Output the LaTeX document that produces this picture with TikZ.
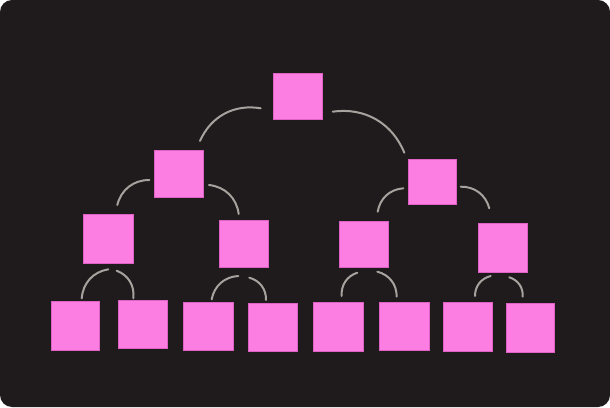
\documentclass[tikz,border=0pt]{standalone}
\begin{document}
\begin{tikzpicture}[x=1pt,y=1pt,
  note/.style={rectangle, fill=notepink, draw=noteedge, line width=0.4pt, inner sep=0pt, minimum width=49pt, minimum height=48pt},
  chalk/.style={draw=chalkgray, line width=2pt, line cap=round, opacity=0.8},
  ]
\definecolor{board}{RGB}{31,26,28}
\definecolor{notepink}{RGB}{252,126,226}
\definecolor{noteedge}{RGB}{222,98,196}
\definecolor{chalkgray}{RGB}{200,196,190}
\useasboundingbox (0,0) rectangle (610,407);
\fill[white] (0,0) rectangle (610,407);
\fill[board, rounded corners=12pt] (0,0) rectangle (610,407);
% level 0
\node[note, minimum width=49pt, minimum height=46pt] (n0) at (297.5,311) {};
% level 1
\node[note, minimum width=49pt, minimum height=47pt] (n1) at (178.5,233.5) {};
\node[note, minimum width=48pt, minimum height=45pt] (n2) at (432,225.5) {};
% level 2
\node[note, minimum width=50pt, minimum height=49pt] (n3) at (108,168.5) {};
\node[note, minimum width=49pt, minimum height=47pt] (n4) at (243.5,163.5) {};
\node[note, minimum width=49pt, minimum height=46pt] (n5) at (363.5,163) {};
\node[note, minimum width=49pt, minimum height=49pt] (n6) at (502.5,159.5) {};
% level 3
\node[note, minimum width=48pt, minimum height=49pt] (m1) at (75,81.5) {};
\node[note, minimum width=49pt, minimum height=48pt] (m2) at (142.5,83) {};
\node[note, minimum width=50pt, minimum height=48pt] (m3) at (208,81) {};
\node[note, minimum width=49pt, minimum height=48pt] (m4) at (272.5,80) {};
\node[note, minimum width=50pt, minimum height=49pt] (m5) at (338,80.5) {};
\node[note, minimum width=50pt, minimum height=48pt] (m6) at (404,81) {};
\node[note, minimum width=49pt, minimum height=49pt] (m7) at (467.5,80.5) {};
\node[note, minimum width=48pt, minimum height=49pt] (m8) at (530,79.5) {};
% chalk arc end points
\coordinate (a1s) at (200,266);   \coordinate (a1e) at (260.7,298.7);
\coordinate (a2s) at (332.7,295.3); \coordinate (a2e) at (404.3,254.3);
\coordinate (a3s) at (117.3,202); \coordinate (a3e) at (149.3,227);
\coordinate (a4s) at (209,222);   \coordinate (a4e) at (238.7,193);
\coordinate (a5s) at (377.7,195.3); \coordinate (a5e) at (403.3,218.7);
\coordinate (a6s) at (460.7,220.3); \coordinate (a6e) at (489.3,198.7);
\coordinate (b1s) at (81.7,108.7); \coordinate (b1e) at (108.3,137.7);
\coordinate (b2s) at (116.7,136.3); \coordinate (b2e) at (133.3,108.7);
\coordinate (b3s) at (211.7,107.7); \coordinate (b3e) at (238.3,131);
\coordinate (b4s) at (249.3,129.3); \coordinate (b4e) at (266,107);
\coordinate (b5s) at (341.7,111); \coordinate (b5e) at (357.3,134.3);
\coordinate (b6s) at (377.3,135.3); \coordinate (b6e) at (396.7,110.3);
\coordinate (b7s) at (475,111);   \coordinate (b7e) at (490.7,131);
\coordinate (b8s) at (509.3,129.7); \coordinate (b8e) at (522.7,110.3);
% chalk arcs
\draw[chalk] (a1s) to[bend left=38] (a1e);
\draw[chalk] (a2s) to[bend left=38] (a2e);
\draw[chalk] (a3s) to[bend left=38] (a3e);
\draw[chalk] (a4s) to[bend left=38] (a4e);
\draw[chalk] (a5s) to[bend left=38] (a5e);
\draw[chalk] (a6s) to[bend left=38] (a6e);
\draw[chalk] (b1s) to[bend left=38] (b1e);
\draw[chalk] (b2s) to[bend left=38] (b2e);
\draw[chalk] (b3s) to[bend left=38] (b3e);
\draw[chalk] (b4s) to[bend left=38] (b4e);
\draw[chalk] (b5s) to[bend left=38] (b5e);
\draw[chalk] (b6s) to[bend left=38] (b6e);
\draw[chalk] (b7s) to[bend left=38] (b7e);
\draw[chalk] (b8s) to[bend left=38] (b8e);
\end{tikzpicture}
\end{document}
